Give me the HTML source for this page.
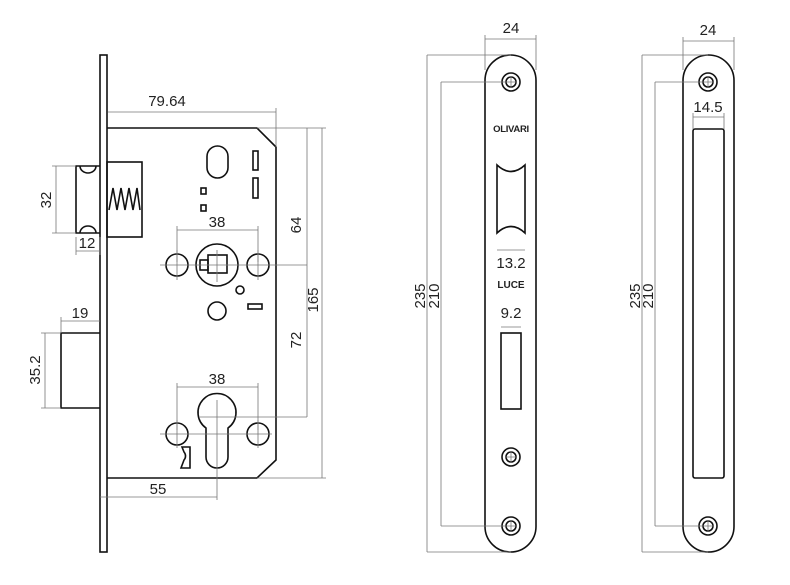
<!DOCTYPE html>
<html><head><meta charset="utf-8"><style>
html,body{margin:0;padding:0;background:#fff;width:790px;height:585px;overflow:hidden}
svg{display:block}
text{font-family:"Liberation Sans",sans-serif;font-size:15px;fill:#222}
.o{fill:none;stroke:#111;stroke-width:1.6}
.d{fill:none;stroke:#777;stroke-width:0.8}
</style></head><body>
<svg width="790" height="585" viewBox="0 0 790 585">
<!-- LEFT LOCK -->
<rect class="o" x="100" y="55" width="7" height="497"/>
<path class="o" d="M107 128 H257 L276 147 V460 L257 478 H107"/>
<rect class="o" x="107" y="162" width="35" height="75"/>
<path class="o" d="M100 166 H76 V233 H100"/>
<path class="o" d="M80 166 A8 7 0 0 0 96 166 M80 233 A8 7 0 0 1 96 233"/>
<path class="o" d="M109 210 L113 188 L117 210 L121 188 L125 210 L129 188 L133 210 L137 188 L140 210"/>
<path class="o" d="M100 333 H61 V408 H100"/>
<rect class="o" x="207" y="146" width="21" height="32" rx="10.5"/>
<rect class="o" x="253" y="151" width="5" height="19"/>
<rect class="o" x="253" y="178" width="5" height="20"/>
<rect class="o" x="201" y="188" width="5" height="6"/>
<rect class="o" x="201" y="205" width="5" height="6"/>
<circle class="o" cx="217" cy="265" r="21"/>
<rect class="o" x="208" y="255" width="19" height="18"/>
<rect class="o" x="200" y="260" width="8" height="10"/>
<circle class="o" cx="177" cy="265" r="11"/>
<circle class="o" cx="258" cy="265" r="11"/>
<circle class="o" cx="240" cy="290" r="4"/>
<circle class="o" cx="217" cy="311" r="9"/>
<rect class="o" x="248" y="304" width="14" height="5"/>
<path class="o" d="M206 428 A19 19 0 1 1 228 428 V457 A11 11 0 0 1 206 457 Z"/>
<circle class="o" cx="177" cy="434" r="11"/>
<circle class="o" cx="258" cy="434" r="11"/>
<path class="o" d="M182 447 H190 V468 H181 L184 460 A6 6 0 0 0 184 452 Z"/>
<path class="d" d="M160 265 H307 M177 250 V280 M258 250 V280 M217 250 V282 M160 434 H272 M177 420 V448 M258 420 V448 M217 400 V500 M200 417 H307"/>
<path class="d" d="M108 112 H276 M276 108 V147 M257 128 H326 M257 478 H326 M307 128 V417 M322 128 V478"/>
<path class="d" d="M177 230 H258 M177 226 V262 M258 226 V262 M177 387 H258 M177 383 V430 M258 383 V430"/>
<path class="d" d="M100 497 H217"/>
<path class="d" d="M56 166 V233 M52 166 H76 M52 233 H76 M76 251 H100 M76 237 V255 M100 237 V255"/>
<path class="d" d="M61 321 H100 M61 317 V333 M45 333 V408 M41 333 H61 M41 408 H61"/>
<text x="167" y="106" text-anchor="middle">79.64</text>
<text x="217" y="227" text-anchor="middle">38</text>
<text x="217" y="384" text-anchor="middle">38</text>
<text x="158" y="494" text-anchor="middle">55</text>
<text x="87" y="248" text-anchor="middle">12</text>
<text x="80" y="318" text-anchor="middle">19</text>
<text transform="translate(301 225) rotate(-90)" text-anchor="middle">64</text>
<text transform="translate(301 340) rotate(-90)" text-anchor="middle">72</text>
<text transform="translate(318 300) rotate(-90)" text-anchor="middle">165</text>
<text transform="translate(51 200) rotate(-90)" text-anchor="middle">32</text>
<text transform="translate(40 370) rotate(-90)" text-anchor="middle">35.2</text>

<!-- MIDDLE FACEPLATE -->
<path class="o" d="M485 80.5 A25.5 25.5 0 0 1 536 80.5 V526.5 A25.5 25.5 0 0 1 485 526.5 Z"/>
<g class="o"><circle cx="511" cy="82" r="9"/><circle cx="511" cy="82" r="5"/>
<circle cx="511" cy="457" r="9"/><circle cx="511" cy="457" r="5"/>
<circle cx="511" cy="526" r="9"/><circle cx="511" cy="526" r="5"/></g>
<path class="o" d="M497 165 Q511 178 525 165 V233 Q511 220 497 233 Z"/>
<rect class="o" x="501" y="333" width="20" height="76"/>
<path class="d" d="M485 39 H536 M485 35 V70 M536 35 V70 M427 55 H511 M427 552 H511 M427 55 V552 M441 82 H511 M441 526 H511 M441 82 V526 M497 250 H525 M501 327 H521 M511 76 V88 M505 82 H517 M505 457 H517 M511 451 V463 M505 526 H517 M511 520 V532"/>
<text x="511" y="33" text-anchor="middle">24</text>
<text x="511" y="132" text-anchor="middle" style="font-size:9.5px;font-weight:bold;letter-spacing:-0.3px">OLIVARI</text>
<text x="511" y="268" text-anchor="middle">13.2</text>
<text x="511" y="288" text-anchor="middle" style="font-size:10px;font-weight:bold">LUCE</text>
<text x="511" y="318" text-anchor="middle">9.2</text>
<text transform="translate(425 296) rotate(-90)" text-anchor="middle">235</text>
<text transform="translate(439 296) rotate(-90)" text-anchor="middle">210</text>

<!-- RIGHT FACEPLATE -->
<path class="o" d="M683 80.5 A25.5 25.5 0 0 1 734 80.5 V526.5 A25.5 25.5 0 0 1 683 526.5 Z"/>
<g class="o"><circle cx="708" cy="82" r="9"/><circle cx="708" cy="82" r="5"/>
<circle cx="708" cy="526" r="9"/><circle cx="708" cy="526" r="5"/></g>
<rect class="o" x="693" y="129" width="31" height="349" rx="2"/>
<path class="d" d="M683 41 H734 M683 37 V70 M734 37 V70 M693 117 H724 M693 113 V129 M724 113 V129 M642 55 H708 M642 552 H708 M642 55 V552 M655 82 H708 M655 526 H708 M655 82 V526 M702 82 H714 M708 76 V88 M702 526 H714 M708 520 V532"/>
<text x="708" y="35" text-anchor="middle">24</text>
<text x="708" y="112" text-anchor="middle">14.5</text>
<text transform="translate(640 296) rotate(-90)" text-anchor="middle">235</text>
<text transform="translate(653 296) rotate(-90)" text-anchor="middle">210</text>
</svg>
</body></html>
